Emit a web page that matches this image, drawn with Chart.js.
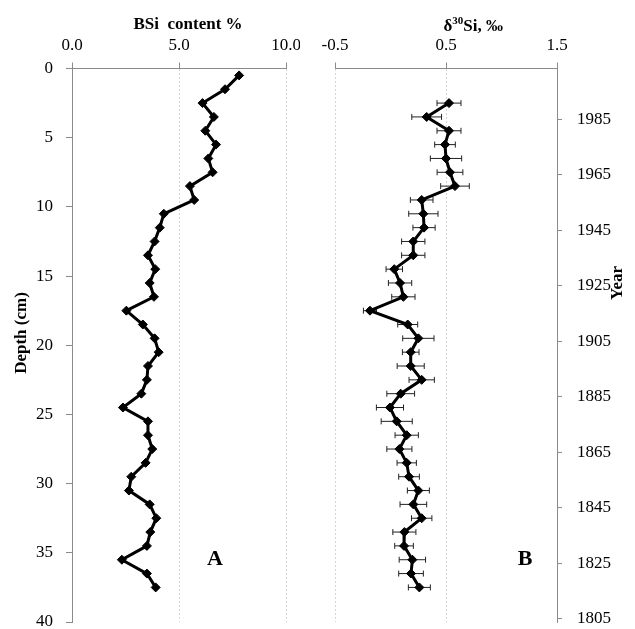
<!DOCTYPE html>
<html lang="en">
<head>
<meta charset="UTF-8">
<title>BSi content and δ30Si with depth</title>
<script src="https://cdn.jsdelivr.net/npm/chart.js"></script>
<style>
  html, body { margin: 0; padding: 0; background: #fff; overflow: hidden; }
  .wrap { position: relative; width: 635px; height: 629px; }
  .panel { position: absolute; top: 0; height: 629px; }
  #panelA { left: 0; width: 300px; }
  #panelB { left: 300px; width: 335px; }
</style>
</head>
<body>
<div class="wrap">
  <div class="panel" id="panelA"><canvas id="bsiChart"></canvas></div>
  <div class="panel" id="panelB"><canvas id="siChart"></canvas></div>
</div>
<script>
// sample mid-depths (cm)
const depthA = [0.5, 1.5, 2.5, 3.5, 4.5, 5.5, 6.5, 7.5, 8.5, 9.5, 10.5, 11.5, 12.5,
  13.5, 14.5, 15.5, 16.5, 17.5, 18.5, 19.5, 20.5, 21.5, 22.5, 23.5, 24.5, 25.5,
  26.5, 27.5, 28.5, 29.5, 30.5, 31.5, 32.5, 33.5, 34.5, 35.5, 36.5, 37.5];
// BSi content, %
const bsi = [7.81, 7.15, 6.10, 6.63, 6.23, 6.73, 6.37, 6.57, 5.51, 5.71, 4.29, 4.10, 3.86,
  3.55, 3.89, 3.63, 3.83, 2.54, 3.31, 3.86, 4.05, 3.55, 3.50, 3.24, 2.38, 3.55,
  3.55, 3.75, 3.44, 2.77, 2.66, 3.63, 3.94, 3.66, 3.50, 2.33, 3.50, 3.91];

const depthB = [2.5, 3.5, 4.5, 5.5, 6.5, 7.5, 8.5, 9.5, 10.5, 11.5, 12.5,
  13.5, 14.5, 15.5, 16.5, 17.5, 18.5, 19.5, 20.5, 21.5, 22.5, 23.5, 24.5, 25.5,
  26.5, 27.5, 28.5, 29.5, 30.5, 31.5, 32.5, 33.5, 34.5, 35.5, 36.5, 37.5];
// d30Si, permil, with +/- error
const d30si = [0.527, 0.326, 0.527, 0.491, 0.500, 0.536, 0.581, 0.281, 0.296, 0.302, 0.205,
  0.205, 0.034, 0.086, 0.116, -0.185, 0.155, 0.251, 0.182, 0.182, 0.281, 0.092, -0.005, 0.056,
  0.146, 0.080, 0.146, 0.167, 0.251, 0.206, 0.281, 0.125, 0.122, 0.197, 0.185, 0.260];
const d30err = [0.108, 0.134, 0.108, 0.093, 0.141, 0.116, 0.129, 0.102, 0.132, 0.100, 0.105,
  0.105, 0.074, 0.105, 0.105, 0.059, 0.090, 0.141, 0.075, 0.122, 0.114, 0.125, 0.122, 0.140,
  0.105, 0.113, 0.087, 0.093, 0.099, 0.120, 0.092, 0.104, 0.084, 0.119, 0.111, 0.099];

// tick labels
const depthTicks = [0, 5, 10, 15, 20, 25, 30, 35, 40];
const bsiTicks = [0, 5, 10];
const d30Ticks = [-0.5, 0.5, 1.5];
const yearTicks = [1805, 1825, 1845, 1865, 1885, 1905, 1925, 1945, 1965, 1985];
const yearMin = 1803.9, yearMax = 2003.3;

const SERIF = "'Liberation Serif', 'Times New Roman', serif";
const AXIS = '#8a8a8a';
const GRID = '#d4d4d4';
const tickFont = { family: SERIF, size: 17 };

function setTicks(list) {
  return scale => { scale.ticks = list.map(v => ({ value: v })); };
}

// fixed axis box size, no extra room for overhanging end labels
function fixBox(size) {
  return s => {
    if (s.isHorizontal()) s.height = size; else s.width = size;
    s.paddingLeft = s.paddingRight = s.paddingTop = s.paddingBottom = 0;
  };
}

// panel A titles
const labelsA = {
  id: 'labelsA',
  afterDraw(chart) {
    const { ctx, chartArea: a } = chart;
    ctx.save();
    ctx.fillStyle = '#000';
    ctx.textAlign = 'center';
    ctx.textBaseline = 'middle';
    ctx.font = 'bold 17px ' + SERIF;
    ctx.fillText('BSi  content %', a.left + 116, 25);
    ctx.font = 'bold 22px ' + SERIF;
    ctx.fillText('A', a.left + 143, 559);
    ctx.translate(22, 333);
    ctx.rotate(-Math.PI / 2);
    ctx.font = 'bold 17px ' + SERIF;
    ctx.fillText('Depth (cm)', 0, 0);
    ctx.restore();
  }
};

// horizontal error bars + panel B titles
const errorBars = {
  id: 'errorBars',
  beforeDatasetsDraw(chart) {
    const { ctx } = chart;
    const xs = chart.scales.x, ys = chart.scales.yd;
    ctx.save();
    ctx.strokeStyle = '#222';
    ctx.lineWidth = 1;
    d30si.forEach((v, i) => {
      const y = ys.getPixelForValue(depthB[i]);
      const x0 = xs.getPixelForValue(v - d30err[i]);
      const x1 = xs.getPixelForValue(v + d30err[i]);
      ctx.beginPath();
      ctx.moveTo(x0, y); ctx.lineTo(x1, y);
      ctx.moveTo(x0, y - 3); ctx.lineTo(x0, y + 3);
      ctx.moveTo(x1, y - 3); ctx.lineTo(x1, y + 3);
      ctx.stroke();
    });
    ctx.restore();
  },
  afterDraw(chart) {
    const { ctx, chartArea: a } = chart;
    ctx.save();
    ctx.fillStyle = '#000';
    ctx.textBaseline = 'alphabetic';
    // δ³⁰Si, ‰ with raised isotope number
    const big = 'bold 17px ' + SERIF, small = 'bold 11px ' + SERIF;
    ctx.font = big;
    const w1 = ctx.measureText('δ').width, w3 = ctx.measureText('Si, ‰').width;
    ctx.font = small;
    const w2 = ctx.measureText('30').width;
    let x = a.right - 54 - (w1 + w2 + w3);
    const base = 31;
    ctx.textAlign = 'left';
    ctx.font = big; ctx.fillText('δ', x, base); x += w1;
    ctx.font = small; ctx.fillText('30', x, base - 7); x += w2;
    ctx.font = big; ctx.fillText('Si, ‰', x, base);
    ctx.textAlign = 'center';
    ctx.textBaseline = 'middle';
    ctx.font = 'bold 22px ' + SERIF;
    ctx.fillText('B', a.left + 190, 559);
    ctx.translate(a.right + 61, 283);
    ctx.rotate(-Math.PI / 2);
    ctx.font = 'bold 17px ' + SERIF;
    ctx.fillText('Year', 0, 0);
    ctx.restore();
  }
};

const lineStyle = {
  showLine: true,
  borderColor: '#000',
  backgroundColor: '#000',
  borderWidth: 3,
  pointStyle: 'rectRot',
  pointRadius: 4.5,
  pointBorderWidth: 1,
  pointBackgroundColor: '#000',
  pointBorderColor: '#000'
};

new Chart(document.getElementById('bsiChart'), {
  type: 'scatter',
  data: {
    datasets: [Object.assign({
      label: 'BSi content %',
      data: bsi.map((v, i) => ({ x: v, y: depthA[i] }))
    }, lineStyle)]
  },
  options: {
    responsive: true,
    maintainAspectRatio: false,
    animation: false,
    layout: { padding: { left: 0, right: 14, top: 0, bottom: 7 } },
    plugins: { legend: { display: false }, tooltip: { enabled: false } },
    scales: {
      x: {
        type: 'linear', position: 'top', min: 0, max: 10,
        afterBuildTicks: setTicks(bsiTicks),
        afterFit: fixBox(68.5),
        ticks: { font: tickFont, color: '#000', padding: 7, callback: v => v.toFixed(1) },
        grid: { color: GRID, tickColor: AXIS, tickLength: 6 },
        border: { color: AXIS, dash: [2, 2] }
      },
      y: {
        type: 'linear', reverse: true, min: 0, max: 40,
        afterBuildTicks: setTicks(depthTicks),
        afterFit: fixBox(72),
        ticks: { font: tickFont, color: '#000', padding: 13 },
        grid: { drawOnChartArea: false, tickColor: AXIS, tickLength: 6 },
        border: { color: AXIS }
      }
    }
  },
  plugins: [labelsA]
});

new Chart(document.getElementById('siChart'), {
  type: 'scatter',
  data: {
    datasets: [Object.assign({
      label: 'd30Si',
      yAxisID: 'yd',
      data: d30si.map((v, i) => ({ x: v, y: depthB[i] }))
    }, lineStyle)]
  },
  options: {
    responsive: true,
    maintainAspectRatio: false,
    animation: false,
    layout: { padding: { left: 35, right: 0, top: 0, bottom: 7 } },
    plugins: { legend: { display: false }, tooltip: { enabled: false } },
    scales: {
      x: {
        type: 'linear', position: 'top', min: -0.5, max: 1.5,
        afterBuildTicks: setTicks(d30Ticks),
        afterFit: fixBox(68.5),
        ticks: { font: tickFont, color: '#000', padding: 7, callback: v => v.toFixed(1) },
        grid: { color: GRID, tickColor: AXIS, tickLength: 6 },
        border: { color: AXIS, dash: [2, 2] }
      },
      yd: {
        type: 'linear', display: false, reverse: true, min: 0, max: 40
      },
      yr: {
        type: 'linear', position: 'right', min: yearMin, max: yearMax,
        afterBuildTicks: setTicks(yearTicks),
        afterFit: fixBox(78),
        ticks: { font: tickFont, color: '#000', padding: 15, callback: v => String(v) },
        grid: { drawOnChartArea: false, tickColor: AXIS, tickLength: 5 },
        border: { color: AXIS }
      }
    }
  },
  plugins: [errorBars]
});
</script>
</body>
</html>
